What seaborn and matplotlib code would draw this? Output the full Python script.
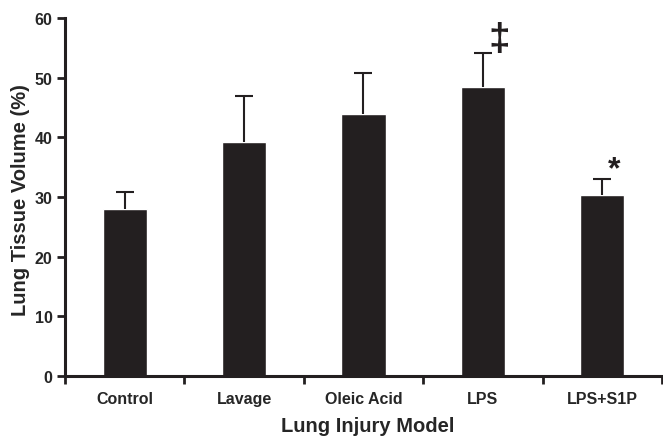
import matplotlib
matplotlib.use("Agg")
import matplotlib.pyplot as plt
import seaborn as sns
import numpy as np
import pandas as pd

categories = ["Control", "Lavage", "Oleic Acid", "LPS", "LPS+S1P"]
values = [28.0, 39.2, 43.9, 48.5, 30.4]
errors = [2.9, 7.8, 6.9, 5.7, 2.7]
marks = ["", "", "", "\u2021", "*"]

sns.set_theme(style="white")
plt.rcParams['font.family'] = ['Liberation Sans', 'DejaVu Sans']
plt.rcParams['font.weight'] = 'bold'

df = pd.DataFrame({"model": categories, "volume": values})

fig = plt.figure(figsize=(6.63, 4.39), dpi=100)
ax = fig.add_axes([0.098, 0.141, 0.9005, 0.8157])

color = "#231f20"
sns.barplot(data=df, x="model", y="volume", order=categories, color=color,
            saturation=1, width=0.37, errorbar=None, ax=ax)

xpos = np.arange(len(categories))
eb = ax.errorbar(xpos, values, yerr=[np.zeros(len(errors)), errors], fmt="none",
                 ecolor=color, elinewidth=1.5, capsize=6.5, capthick=1.5)
# hide the lower caps (only upward error bars in the reference)
for cl in eb[1]:
    yd = np.asarray(cl.get_ydata(), dtype=float)
    if np.allclose(yd, values):
        cl.set_visible(False)

for i, m in enumerate(marks):
    if m == "\u2021":
        ax.text(i + 0.135, values[i] + errors[i] - 0.75, m, ha="center", va="bottom",
                fontsize=28, fontweight="bold", color=color)
    elif m:
        ax.text(i + 0.1, values[i] + errors[i] - 1.0, m, ha="center", va="bottom",
                fontsize=23, fontweight="bold", color=color)

ax.set_xlim(-0.5, len(categories) - 0.5)
ax.set_ylim(0, 60)
ax.set_yticks(range(0, 61, 10))
ax.set_yticklabels([str(v) for v in range(0, 61, 10)], fontsize=11.5, fontweight="bold")

# ticks at category boundaries, labels at centers
ax.set_xticks(np.arange(-0.5, len(categories), 1.0))
ax.set_xticklabels([])
ax.set_xticks(xpos, minor=True)
ax.set_xticklabels(categories, minor=True, fontsize=11.5, fontweight="bold")
ax.tick_params(axis="x", which="major", direction="out", length=6, width=2, bottom=True, color=color)
ax.tick_params(axis="x", which="minor", length=0, pad=11)
ax.tick_params(axis="y", which="major", direction="out", length=6, width=2, left=True, color=color, pad=3)

ax.set_xlabel("Lung Injury Model", fontsize=14.5, fontweight="bold")
ax.set_ylabel("Lung Tissue Volume (%)", fontsize=14.5, fontweight="bold")
ax.xaxis.set_label_coords(0.5075, -0.112)
ax.yaxis.set_label_coords(-0.0586, 0.494)

for s in ["top", "right"]:
    ax.spines[s].set_visible(False)
for s in ["left", "bottom"]:
    ax.spines[s].set_linewidth(2.2)
    ax.spines[s].set_color(color)

fig.savefig("out.png", dpi=100)
